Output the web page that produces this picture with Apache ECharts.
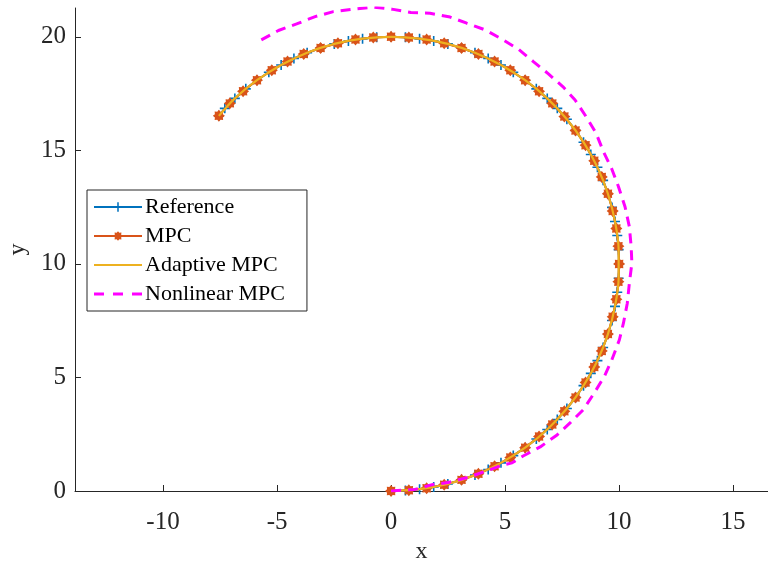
<!DOCTYPE html>
<html>
<head>
<meta charset="utf-8">
<script src="https://cdn.jsdelivr.net/npm/echarts@6/dist/echarts.min.js"></script>
<style>
  html, body { margin: 0; padding: 0; background: #ffffff; }
  #chart { width: 768px; height: 563px; }
</style>
</head>
<body>
<div id="chart"></div>
<script>
// Reference circular path (x, y)
const referenceX = [0, 0.63, 1.25, 1.87, 2.49, 3.09, 3.68, 4.26, 4.82, 5.36, 5.88, 6.37, 6.85, 7.29, 7.71, 8.09, 8.44, 8.76, 9.05, 9.30, 9.51, 9.69, 9.82, 9.92, 9.98, 10.00, 9.98, 9.92, 9.82, 9.69, 9.51, 9.30, 9.05, 8.76, 8.44, 8.09, 7.71, 7.29, 6.85, 6.37, 5.88, 5.36, 4.82, 4.26, 3.68, 3.09, 2.49, 1.87, 1.25, 0.63, 0, -0.63, -1.25, -1.87, -2.49, -3.09, -3.68, -4.26, -4.82, -5.36, -5.88, -6.37, -6.85, -7.29, -7.55];
const referenceY = [0, 0.02, 0.08, 0.18, 0.31, 0.49, 0.70, 0.95, 1.24, 1.56, 1.91, 2.29, 2.71, 3.15, 3.63, 4.12, 4.64, 5.18, 5.74, 6.32, 6.91, 7.51, 8.13, 8.75, 9.37, 10.00, 10.63, 11.25, 11.87, 12.49, 13.09, 13.68, 14.26, 14.82, 15.36, 15.88, 16.37, 16.85, 17.29, 17.71, 18.09, 18.44, 18.76, 19.05, 19.30, 19.51, 19.69, 19.82, 19.92, 19.98, 20.00, 19.98, 19.92, 19.82, 19.69, 19.51, 19.30, 19.05, 18.76, 18.44, 18.09, 17.71, 17.29, 16.85, 16.52];

// Linear MPC trajectory
const mpcX = [0, 0.78, 1.56, 2.33, 3.09, 3.83, 4.54, 5.23, 5.88, 6.49, 7.07, 7.60, 8.09, 8.53, 8.91, 9.24, 9.51, 9.72, 9.88, 9.97, 10.00, 9.97, 9.88, 9.72, 9.51, 9.24, 8.91, 8.53, 8.09, 7.60, 7.07, 6.49, 5.88, 5.23, 4.54, 3.83, 3.09, 2.33, 1.56, 0.78, 0, -0.78, -1.56, -2.33, -3.09, -3.83, -4.54, -5.23, -5.88, -6.49, -7.07, -7.55];
const mpcY = [0, 0.03, 0.12, 0.28, 0.49, 0.76, 1.09, 1.47, 1.91, 2.40, 2.93, 3.51, 4.12, 4.78, 5.46, 6.17, 6.91, 7.67, 8.44, 9.22, 10.00, 10.78, 11.56, 12.33, 13.09, 13.83, 14.54, 15.23, 15.88, 16.49, 17.07, 17.60, 18.09, 18.53, 18.91, 19.24, 19.51, 19.72, 19.88, 19.97, 20.00, 19.97, 19.88, 19.72, 19.51, 19.24, 18.91, 18.53, 18.09, 17.60, 17.07, 16.52];

// Adaptive MPC trajectory
const adaptiveX = [0, 1.25, 2.49, 3.68, 4.82, 5.88, 6.85, 7.71, 8.44, 9.05, 9.51, 9.82, 9.98, 9.98, 9.82, 9.51, 9.05, 8.44, 7.71, 6.85, 5.88, 4.82, 3.68, 2.49, 1.25, 0, -1.25, -2.49, -3.68, -4.82, -5.88, -6.85, -7.55];
const adaptiveY = [0, 0.08, 0.31, 0.70, 1.24, 1.91, 2.71, 3.63, 4.64, 5.74, 6.91, 8.13, 9.37, 10.63, 11.87, 13.09, 14.26, 15.36, 16.37, 17.29, 18.09, 18.76, 19.30, 19.69, 19.92, 20.00, 19.92, 19.69, 19.30, 18.76, 18.09, 17.29, 16.52];

// Nonlinear MPC trajectory
const nmpcX = [0, 0.60, 1.05, 1.80, 2.50, 3.38, 4.12, 4.87, 5.31, 5.79, 6.54, 7.28, 7.85, 8.42, 8.90, 9.35, 9.68, 10.01, 10.19, 10.36, 10.45, 10.56, 10.53, 10.45, 10.26, 9.97, 9.68, 9.31, 8.99, 8.55, 8.07, 7.53, 6.90, 6.24, 5.58, 4.86, 4.12, 3.32, 2.59, 1.71, 0.87, 0.03, -0.78, -1.65, -2.53, -3.33, -4.14, -4.94, -5.90];
const nmpcY = [0, 0.04, 0.07, 0.28, 0.37, 0.60, 0.86, 1.14, 1.24, 1.54, 1.94, 2.47, 3.00, 3.57, 4.30, 5.04, 5.77, 6.65, 7.39, 8.27, 9.15, 10.03, 10.76, 11.64, 12.52, 13.41, 14.18, 14.95, 15.76, 16.49, 17.22, 17.81, 18.37, 18.91, 19.46, 19.90, 20.31, 20.60, 20.87, 21.04, 21.07, 21.22, 21.31, 21.22, 21.11, 20.89, 20.57, 20.28, 19.75];

const xTicks = [-10, -5, 0, 5, 10, 15];
const yTicks = [0, 5, 10, 15, 20];

const seriesNames = ['Reference', 'MPC', 'Adaptive MPC', 'Nonlinear MPC'];

function pairs(xs, ys) {
  return xs.map((x, i) => [x, ys[i]]);
}

const plusSymbol = 'path://M4.2,0h1.6v4.2h4.2v1.6h-4.2v4.2h-1.6v-4.2h-4.2v-1.6h4.2z';
const starSymbol = 'path://M10,5L8.33,6.38L8.54,8.54L6.38,8.33L5,10L3.62,8.33L1.46,8.54L1.67,6.38L0,5L1.67,3.62L1.46,1.46L3.62,1.67L5,0L6.38,1.67L8.54,1.46L8.33,3.62Z';
// legend keys drawn as plain solid / dashed strokes
const solidKey = 'path://M0,0h48v2h-48z';
const dashedKey = 'path://M0,0h10v3h-10zM19,0h10v3h-10zM38,0h10v3h-10z';

const serifFont = '"Liberation Serif", "DejaVu Serif", serif';
const axisColor = '#262626';

const chart = echarts.init(document.getElementById('chart'), null, { renderer: 'canvas' });

chart.setOption({
  animation: false,
  backgroundColor: '#ffffff',
  grid: { left: 75, right: 0, top: 8, bottom: 72, containLabel: false, outerBoundsMode: 'none' },
  legend: {
    orient: 'vertical',
    left: 87,
    top: 190,
    data: [
      { name: seriesNames[0] },
      { name: seriesNames[1] },
      { name: seriesNames[2], icon: solidKey },
      { name: seriesNames[3], icon: dashedKey }
    ],
    itemWidth: 48,
    itemHeight: 12,
    itemGap: 7,
    padding: [6, 22, 6, 6],
    borderColor: axisColor,
    borderWidth: 1,
    backgroundColor: '#ffffff',
    textStyle: { fontFamily: serifFont, fontSize: 22, color: '#000000', padding: [0, 0, 0, -2] }
  },
  xAxis: {
    type: 'value',
    min: -13.86,
    max: 16.53,
    name: 'x',
    nameLocation: 'middle',
    nameGap: 47,
    nameTextStyle: { fontFamily: serifFont, fontSize: 24, color: axisColor },
    axisLine: { show: true, onZero: false, lineStyle: { color: axisColor, width: 1 } },
    axisTick: { show: true, inside: true, length: 6, customValues: xTicks, lineStyle: { color: axisColor } },
    axisLabel: { customValues: xTicks, fontFamily: serifFont, fontSize: 25, color: axisColor, margin: 19 },
    splitLine: { show: false }
  },
  yAxis: {
    type: 'value',
    min: 0,
    max: 21.27,
    name: 'y',
    nameLocation: 'middle',
    nameGap: 44,
    nameTextStyle: { fontFamily: serifFont, fontSize: 24, color: axisColor },
    axisLine: { show: true, onZero: false, lineStyle: { color: axisColor, width: 1 } },
    axisTick: { show: true, inside: true, length: 6, customValues: yTicks, lineStyle: { color: axisColor } },
    axisLabel: { customValues: yTicks, fontFamily: serifFont, fontSize: 25, color: axisColor, margin: 9 },
    splitLine: { show: false }
  },
  series: [
    {
      name: seriesNames[0],
      type: 'line',
      data: pairs(referenceX, referenceY),
      symbol: plusSymbol,
      symbolSize: 10,
      showAllSymbol: true,
      itemStyle: { color: '#0072BD' },
      lineStyle: { color: '#0072BD', width: 2 },
      z: 2
    },
    {
      name: seriesNames[1],
      type: 'line',
      data: pairs(mpcX, mpcY),
      symbol: starSymbol,
      symbolSize: 12,
      showAllSymbol: true,
      itemStyle: { color: '#D95319' },
      lineStyle: { color: '#D95319', width: 2 },
      z: 3
    },
    {
      name: seriesNames[2],
      type: 'line',
      data: pairs(adaptiveX, adaptiveY),
      symbol: 'none',
      smooth: 0.3,
      itemStyle: { color: '#EDB120' },
      lineStyle: { color: '#EDB120', width: 2.2 },
      z: 4
    },
    {
      name: seriesNames[3],
      type: 'line',
      data: pairs(nmpcX, nmpcY),
      symbol: 'none',
      itemStyle: { color: '#FF00FF' },
      lineStyle: { color: '#FF00FF', width: 3, type: [10, 7] },
      z: 5
    }
  ]
});
</script>
</body>
</html>
